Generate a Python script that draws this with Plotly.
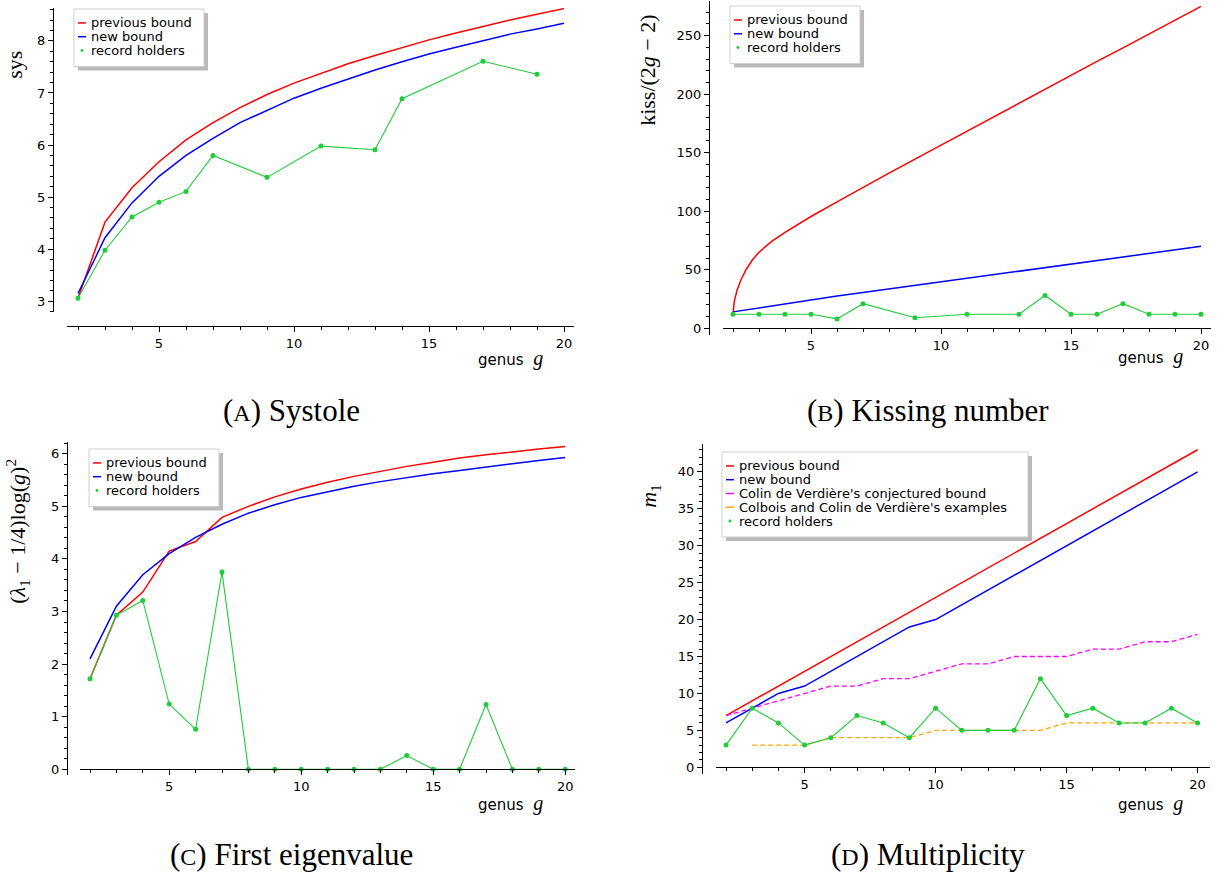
import plotly.graph_objects as go

W, H = 1223, 877

# ---------------- data ----------------
genus = list(range(2, 21))

# (A) Systole
sys_prev = [3.06, 4.52, 5.18, 5.68, 6.10, 6.43, 6.72, 6.97, 7.19, 7.38, 7.56, 7.72, 7.87, 8.02, 8.15, 8.28, 8.40, 8.51, 8.62]
sys_new = [3.15, 4.22, 4.89, 5.40, 5.80, 6.13, 6.43, 6.67, 6.90, 7.09, 7.27, 7.44, 7.60, 7.75, 7.88, 8.00, 8.13, 8.23, 8.34]
sys_rec_g = [2, 3, 4, 5, 6, 7, 9, 11, 13, 14, 17, 19]
sys_rec = [3.06, 3.98, 4.62, 4.90, 5.11, 5.80, 5.38, 5.98, 5.91, 6.89, 7.61, 7.36]

# (B) Kissing number
kiss_prev_g = [2, 2.05, 2.15, 2.3, 2.5, 2.75, 3, 3.5, 4, 5, 6, 7, 8, 9, 10, 11, 12, 13, 14, 15, 16, 17, 18, 19, 20]
kiss_prev = [12.5, 23, 32, 41, 50, 58.5, 65, 74.5, 82, 95.5, 108, 120.5, 132.5, 144.5, 156.5, 168.5, 180.5, 192.5, 204.5, 216.5, 228, 239.5, 251.5, 263, 275]
kiss_new = [14, 17.5, 21, 24, 27.5, 30.5, 33.5, 37, 40, 43, 46, 49, 52, 55, 58, 60.5, 63.5, 67, 70]
kiss_rec_g = [2, 3, 4, 5, 6, 7, 9, 11, 13, 14, 15, 16, 17, 18, 19, 20]
kiss_rec = [12, 12, 12, 12, 8, 21, 9, 12, 12, 28, 12, 12, 21, 12, 12, 12]

# (C) First eigenvalue
eig_prev = [1.72, 2.93, 3.37, 4.15, 4.33, 4.79, 5.00, 5.18, 5.33, 5.46, 5.57, 5.67, 5.76, 5.84, 5.92, 5.98, 6.04, 6.09, 6.14]
eig_new = [2.10, 3.10, 3.70, 4.10, 4.41, 4.66, 4.87, 5.03, 5.17, 5.28, 5.38, 5.47, 5.55, 5.62, 5.68, 5.75, 5.81, 5.87, 5.93]
eig_rec = [1.72, 2.93, 3.21, 1.24, 0.76, 3.75, 0, 0, 0, 0, 0, 0, 0.26, 0, 0, 1.23, 0, 0, 0]

# (D) Multiplicity
mult_prev = [7, 9, 11, 13, 15, 17, 19, 21, 23, 25, 27, 29, 31, 33, 35, 37, 39, 41, 43]
mult_new = [6, 8, 10, 11, 13, 15, 17, 19, 20, 22, 24, 26, 28, 30, 32, 34, 36, 38, 40]
mult_cdv = [7, 8, 9, 10, 11, 11, 12, 12, 13, 14, 14, 15, 15, 15, 16, 16, 17, 17, 18]
mult_ccdv_g = list(range(3, 21))
mult_ccdv = [3, 3, 3, 4, 4, 4, 4, 5, 5, 5, 5, 5, 6, 6, 6, 6, 6, 6]
mult_rec = [3, 8, 6, 3, 4, 7, 6, 4, 8, 5, 5, 5, 12, 7, 8, 6, 6, 8, 6]

# legend labels
L_PREV = "previous bound"
L_NEW = "new bound"
L_REC = "record holders"
L_CDV = "Colin de Verdière's conjectured bound"
L_CCDV = "Colbois and Colin de Verdière's examples"

# ---------------- styling ----------------
RED, BLUE, GREEN = "#ff0000", "#0000ff", "#1fcc3a"
MAGENTA, ORANGE = "#ff00ff", "#ffa500"
SANS = "DejaVu Sans"
SERIF = "Liberation Serif"
DASH = "5px,3px"


def fx(px):
    return px / W


def fy(py):
    return 1 - py / H


fig = go.Figure()


def add_line(x, y, color, name, ax, dash=None, width=1.5):
    fig.add_trace(go.Scatter(
        x=x, y=y, mode="lines", name=name,
        line=dict(color=color, width=width, dash=dash),
        xaxis="x" + ax, yaxis="y" + ax, showlegend=False,
    ))


def add_records(x, y, ax):
    fig.add_trace(go.Scatter(
        x=x, y=y, mode="lines", line=dict(color=GREEN, width=1.1),
        xaxis="x" + ax, yaxis="y" + ax, showlegend=False, hoverinfo="skip",
    ))
    fig.add_trace(go.Scatter(
        x=x, y=y, mode="markers", name=L_REC,
        marker=dict(color=GREEN, size=5),
        xaxis="x" + ax, yaxis="y" + ax, showlegend=False,
    ))


# Panel A
add_line(genus, sys_prev, RED, L_PREV, "")
add_line(genus, sys_new, BLUE, L_NEW, "")
add_records(sys_rec_g, sys_rec, "")
# Panel B
add_line(kiss_prev_g, kiss_prev, RED, L_PREV, "2")
add_line(genus, kiss_new, BLUE, L_NEW, "2")
add_records(kiss_rec_g, kiss_rec, "2")
# Panel C
add_line(genus, eig_prev, RED, L_PREV, "3")
add_line(genus, eig_new, BLUE, L_NEW, "3")
add_records(genus, eig_rec, "3")
# Panel D
add_line(genus, mult_prev, RED, L_PREV, "4")
add_line(genus, mult_new, BLUE, L_NEW, "4")
add_line(genus, mult_cdv, MAGENTA, L_CDV, "4", dash=DASH, width=1.3)
add_line(mult_ccdv_g, mult_ccdv, ORANGE, L_CCDV, "4", dash=DASH, width=1.3)
add_records(genus, mult_rec, "4")

tickfont = dict(family=SANS, size=13, color="black")


def axis_pair(xdom, g2px, ppu_x, ydom, zero_py, ppu_y, ypos_px, xpos_px, ydtick, yminor):
    x0, x1 = xdom
    xr = [2 - (g2px - x0) / ppu_x, 2 + (x1 - g2px) / ppu_x]
    yt, yb = ydom
    yr = [(zero_py - yb) / ppu_y, (zero_py - yt) / ppu_y]
    xa = dict(
        domain=[fx(x0), fx(x1)], range=xr, anchor="free", position=fy(xpos_px),
        showline=True, linecolor="black", linewidth=1.3, showgrid=False, zeroline=False,
        ticks="outside", ticklen=5, tickwidth=1, tickcolor="black", tick0=0, dtick=5,
        minor=dict(dtick=1, ticks="outside", ticklen=3, tickwidth=1, tickcolor="black", showgrid=False),
        tickfont=tickfont,
    )
    ya = dict(
        domain=[fy(yb), fy(yt)], range=yr, anchor="free", position=fx(ypos_px),
        showline=True, linecolor="black", linewidth=1.3, showgrid=False, zeroline=False,
        ticks="outside", ticklen=5, tickwidth=1, tickcolor="black", tick0=0, dtick=ydtick,
        minor=dict(dtick=yminor, ticks="outside", ticklen=3, tickwidth=1, tickcolor="black", showgrid=False),
        tickfont=tickfont,
    )
    return xa, ya


xa1, ya1 = axis_pair((67, 574), 78, 27.0, (8, 313), 302 + 3 * 52.2, 52.2, 53, 327, 1, 0.2)
xa2, ya2 = axis_pair((723, 1211), 733, 26.0, (1, 336), 329, 1.173, 709, 329, 50, 10)
xa3, ya3 = axis_pair((80, 575), 90, 26.4, (443, 777), 771, 52.7, 67, 771, 1, 0.2)
xa4, ya4 = axis_pair((716, 1210), 726, 26.2, (445, 776), 769, 7.4, 702, 769, 5, 1)

fig.update_layout(
    width=W, height=H, margin=dict(l=0, r=0, t=0, b=0),
    plot_bgcolor="white", paper_bgcolor="white", showlegend=False,
    xaxis=xa1, yaxis=ya1, xaxis2=xa2, yaxis2=ya2,
    xaxis3=xa3, yaxis3=ya3, xaxis4=xa4, yaxis4=ya4,
)


# ---------------- legends (Sage-style boxes with shadow) ----------------
def rect(x0, y0, x1, y1, fill, line_color=None):
    fig.add_shape(type="rect", xref="paper", yref="paper",
                  x0=fx(x0), x1=fx(x1), y0=fy(y1), y1=fy(y0),
                  fillcolor=fill, line=dict(color=line_color or fill, width=1 if line_color else 0))


def add_legend(left, top, width, items):
    step = 13.8
    height = 16 + step * (len(items) - 1) + 14
    rect(left + 4, top + 4, left + width + 4, top + height + 4, "#b9b9b9")
    rect(left, top, left + width, top + height, "white", "#d0d0d0")
    for i, (label, color, kind) in enumerate(items):
        yc = top + 14 + step * i
        if kind == "dot":
            fig.add_shape(type="circle", xref="paper", yref="paper",
                          x0=fx(left + 6.5), x1=fx(left + 9.5), y0=fy(yc + 1.5), y1=fy(yc - 1.5),
                          fillcolor=color, line=dict(width=0))
        else:
            fig.add_shape(type="line", xref="paper", yref="paper",
                          x0=fx(left + 4), x1=fx(left + 12), y0=fy(yc), y1=fy(yc),
                          line=dict(color=color, width=1.5))
        fig.add_annotation(text=label, x=fx(left + 16), y=fy(yc), xref="paper", yref="paper",
                           showarrow=False, xanchor="left", yanchor="middle", borderpad=0,
                           font=dict(family=SANS, size=13, color="black"))


basic = [(L_PREV, RED, "line"), (L_NEW, BLUE, "line"), (L_REC, GREEN, "dot")]
add_legend(74, 9, 130, basic)
add_legend(730, 6, 130, basic)
add_legend(89, 450, 130, basic)
add_legend(722, 453, 306, [(L_PREV, RED, "line"), (L_NEW, BLUE, "line"),
                           (L_CDV, MAGENTA, "line"), (L_CCDV, ORANGE, "line"),
                           (L_REC, GREEN, "dot")])

# y-axis labels
ylabels = [
    ("sys", 15, 65),
    ("kiss/(2<i>g</i> − 2)", 648, 71),
    ("(<i>λ</i><sub>1</sub> − 1/4)log(<i>g</i>)<sup>2</sup>", 18, 533),
    ("<i>m</i><sub>1</sub>", 650, 497),
]
for txt, px, py in ylabels:
    fig.add_annotation(text=txt, x=fx(px), y=fy(py), xref="paper", yref="paper",
                       showarrow=False, textangle=-90, xanchor="center", yanchor="middle",
                       font=dict(family=SERIF, size=22, color="black"))

# x-axis labels
for px, py in [(545, 359), (1185, 357), (545, 805), (1185, 805)]:
    fig.add_annotation(
        text="genus  <span style=\"font-family:Liberation Serif;font-style:italic;font-size:20px\">g</span>",
        x=fx(px), y=fy(py), xref="paper", yref="paper", showarrow=False,
        xanchor="right", yanchor="middle", font=dict(family=SANS, size=15, color="black"))

# captions
caps = [
    ("(<span style=\"font-size:24px\">A</span>) Systole", 291, 411),
    ("(<span style=\"font-size:24px\">B</span>) Kissing number", 928, 411),
    ("(<span style=\"font-size:24px\">C</span>) First eigenvalue", 291, 856),
    ("(<span style=\"font-size:24px\">D</span>) Multiplicity", 928, 856),
]
for txt, px, py in caps:
    fig.add_annotation(text=txt, x=fx(px), y=fy(py), xref="paper", yref="paper",
                       showarrow=False, xanchor="center", yanchor="middle",
                       font=dict(family=SERIF, size=31, color="black"))

fig.write_html("out.html", config={"displayModeBar": False},
               post_script="document.body.style.margin='0';")
